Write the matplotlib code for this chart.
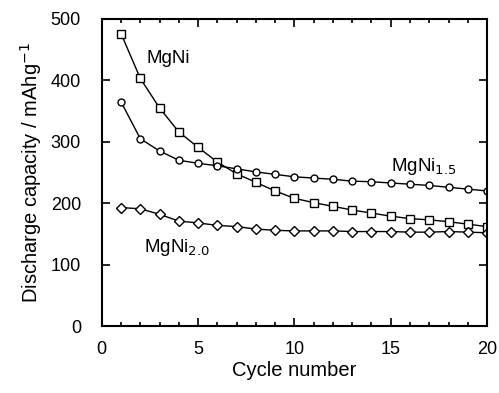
import matplotlib.pyplot as plt
from matplotlib.ticker import MultipleLocator

plt.rcParams['font.family'] = ['Liberation Sans', 'DejaVu Sans']

cycles = list(range(1, 21))
mgni = [476, 403, 355, 316, 291, 267, 248, 234, 220, 208, 201, 195, 189, 184, 179, 175, 173, 170, 166, 162]
mgni15 = [365, 305, 285, 270, 265, 261, 256, 251, 247, 243, 241, 239, 236, 235, 233, 231, 229, 226, 223, 220]
mgni20 = [193, 191, 182, 171, 168, 164, 162, 158, 156, 155, 155, 155, 154, 154, 154, 153, 153, 154, 153, 152]

fig = plt.figure(figsize=(4.99, 3.93), dpi=100)
ax = fig.add_axes([0.204, 0.170, 0.772, 0.782])

ax.plot(cycles, mgni, color='black', lw=1, marker='s', ms=5.5, mfc='white', mec='black', mew=1)
ax.plot(cycles, mgni15, color='black', lw=1, marker='o', ms=5, mfc='white', mec='black', mew=1)
ax.plot(cycles, mgni20, color='black', lw=1, marker='D', ms=5, mfc='white', mec='black', mew=1)

# series labels
ax.text(2.3, 428, 'MgNi', fontsize=13.5)
ax.text(15.0, 252, 'MgNi$_{1.5}$', fontsize=13.5)
ax.text(2.2, 121, 'MgNi$_{2.0}$', fontsize=13.5)

ax.set_xlim(0, 20)
ax.set_ylim(0, 500)
ax.xaxis.set_major_locator(MultipleLocator(5))
ax.xaxis.set_minor_locator(MultipleLocator(1))
ax.yaxis.set_major_locator(MultipleLocator(100))
ax.tick_params(which='both', direction='in', top=True, right=True, labelsize=13, width=1.2)
ax.tick_params(which='major', length=6)
ax.tick_params(which='minor', length=3)
ax.tick_params(axis='y', pad=15)
ax.tick_params(axis='x', pad=11)
for s in ax.spines.values():
    s.set_linewidth(1.5)

ax.set_xlabel('Cycle number', fontsize=14.5, labelpad=2)
ax.set_ylabel('Discharge capacity / mAhg$^{-1}$', fontsize=14.5, labelpad=5)

fig.savefig('out.png', dpi=100)
